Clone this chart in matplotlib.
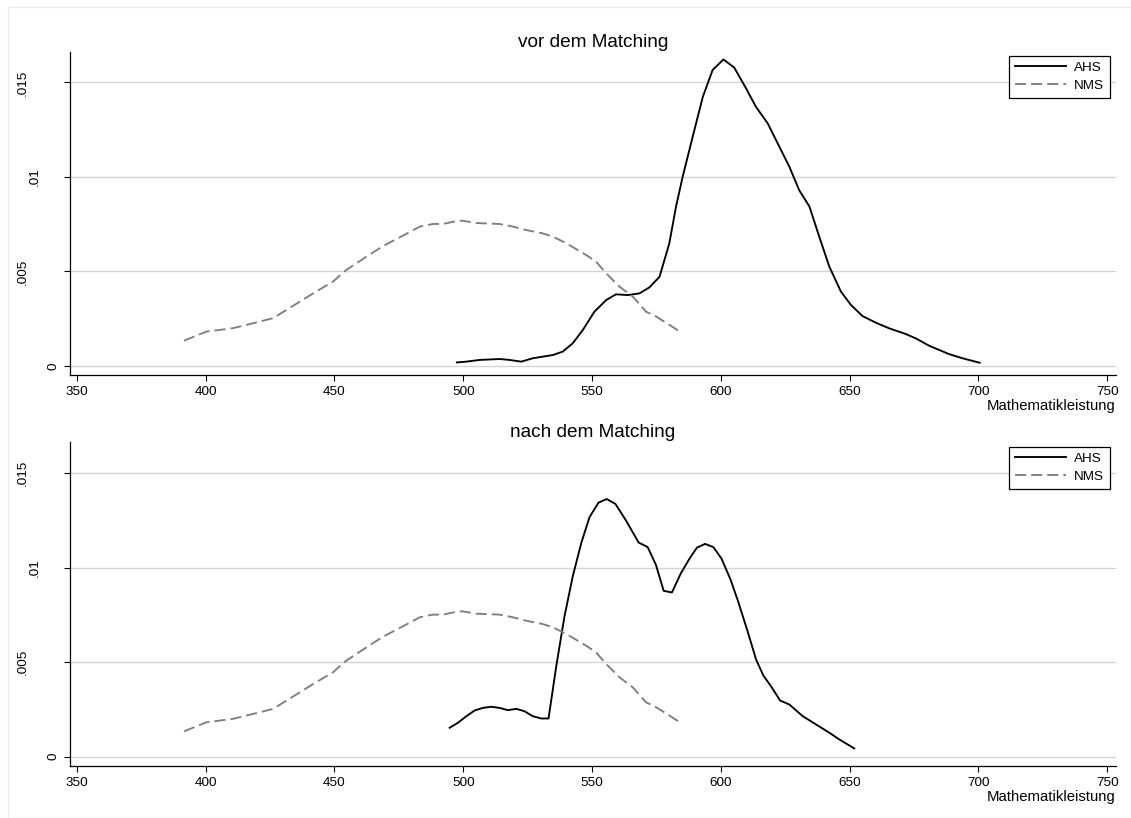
import matplotlib
matplotlib.use("Agg")
import matplotlib.pyplot as plt
from matplotlib.patches import Rectangle

plt.rcParams['font.family'] = ['Liberation Sans', 'DejaVu Sans']
plt.rcParams['lines.scale_dashes'] = False

# NMS density (same in both panels)
nms_x = [391.6, 400.3, 410.6, 418.4, 426.2, 431.3, 441.7, 449.4, 454.6, 462.4,
         468.8, 475.3, 483.1, 488.2, 492.1, 497.9, 499.9, 505.1, 514.1, 519.3,
         524.4, 530.9, 534.8, 540.0, 547.7, 551.6, 555.5, 560.6, 565.8, 571.0,
         574.8, 580.0, 584.9]
nms_y = [0.00134, 0.00182, 0.00200, 0.00226, 0.00253, 0.00296, 0.00384, 0.00446,
         0.00508, 0.00578, 0.00634, 0.00680, 0.00737, 0.00751, 0.00751, 0.00768,
         0.00768, 0.00756, 0.00751, 0.00737, 0.00719, 0.00701, 0.00684, 0.00649,
         0.00587, 0.00551, 0.00490, 0.00420, 0.00367, 0.00287, 0.00262, 0.00218,
         0.00174]

# AHS density before matching
ahs_vor_x = [497.5, 501.2, 506.3, 514.1, 518.0, 522.5, 527.0, 534.8, 538.6, 542.5,
             546.4, 550.9, 555.5, 559.3, 563.9, 568.4, 572.3, 576.2, 580.0, 582.6,
             585.2, 589.1, 593.0, 596.8, 601.0, 605.2, 609.8, 613.6, 618.2, 622.7,
             626.6, 630.4, 634.4, 638.2, 642.1, 646.6, 650.5, 655.0, 660.2, 665.4,
             671.8, 675.7, 680.9, 688.6, 693.8, 700.5]
ahs_vor_y = [0.00019, 0.00023, 0.00032, 0.00037, 0.00032, 0.00023, 0.00041, 0.00058,
             0.00076, 0.00120, 0.00190, 0.00287, 0.00349, 0.00379, 0.00375, 0.00384,
             0.00416, 0.00472, 0.00649, 0.00843, 0.01002, 0.01214, 0.01423, 0.01565,
             0.01621, 0.01578, 0.01468, 0.01371, 0.01283, 0.01160, 0.01054, 0.00930,
             0.00843, 0.00684, 0.00526, 0.00394, 0.00323, 0.00264, 0.00229, 0.00199,
             0.00169, 0.00146, 0.00107, 0.00063, 0.00041, 0.00017]

# AHS density after matching
ahs_nach_x = [494.7, 497.9, 501.2, 504.4, 507.6, 510.8, 514.1, 517.3, 520.6, 523.8,
              527.0, 530.3, 533.1, 536.1, 539.3, 542.5, 545.8, 549.0, 552.5, 555.7,
              559.1, 563.2, 568.1, 571.6, 574.8, 577.8, 581.0, 584.5, 587.7, 590.7,
              593.9, 597.1, 600.3, 603.8, 606.7, 610.2, 613.7, 616.5, 619.5, 623.0,
              626.6, 631.8, 637.0, 642.1, 646.0, 651.8]
ahs_nach_y = [0.00153, 0.00179, 0.00214, 0.00244, 0.00258, 0.00264, 0.00258, 0.00246,
              0.00253, 0.00240, 0.00214, 0.00202, 0.00202, 0.00478, 0.00742, 0.00953,
              0.01129, 0.01266, 0.01343, 0.01362, 0.01336, 0.01248, 0.01132, 0.01108,
              0.01014, 0.00877, 0.00868, 0.00970, 0.01044, 0.01105, 0.01125, 0.01108,
              0.01046, 0.00935, 0.00821, 0.00671, 0.00513, 0.00429, 0.00372, 0.00297,
              0.00276, 0.00214, 0.00170, 0.00127, 0.00091, 0.00044]

titles = ['vor dem Matching', 'nach dem Matching']
x_ticks = [350, 400, 450, 500, 550, 600, 650, 700, 750]
y_ticks = [0, 0.005, 0.01, 0.015]
y_tick_labels = ['0', '.005', '.01', '.015']
y_label_pads = [2.8, 25.5, 16.5, 25.5]

W, H = 1131, 818
fig = plt.figure(figsize=(W / 100, H / 100), dpi=100)
fig.patches.append(Rectangle((8 / W, 0), 1, 1 - 7 / H, transform=fig.transFigure,
                             fill=False, edgecolor='#ececec', lw=1))

panels = [
    (ahs_vor_x, ahs_vor_y, 51.7, 375.0, 0.9876),
    (ahs_nach_x, ahs_nach_y, 442.3, 765.7, 0.9864),
]

for i, (ax_x, ax_y, top, bottom, leg_y) in enumerate(panels):
    ax = fig.add_axes([69.7 / W, 1 - bottom / H, (1115.7 - 69.7) / W, (bottom - top) / H])
    ax.plot(ax_x, ax_y, color='black', lw=1.35, label='AHS')
    ax.plot(nms_x, nms_y, color='#7f7f7f', lw=1.35, linestyle=(0, (8, 3.6)), label='NMS')

    ax.set_xlim(347.2, 753.3)
    ax.set_ylim(-0.000476, 0.01662)
    ax.set_xticks(x_ticks)
    ax.set_yticks(y_ticks)
    ax.set_yticklabels(y_tick_labels, rotation=90, va='center')
    ax.tick_params(axis='both', length=4.3, width=0.8, color='black', labelsize=9.7)
    ax.tick_params(axis='x', pad=3.5)
    for tick, p in zip(ax.yaxis.get_major_ticks(), y_label_pads):
        tick.set_pad(p)

    ax.grid(axis='y', color='#d4d4d4', lw=1.0)
    ax.set_axisbelow(True)
    for s in ['top', 'right']:
        ax.spines[s].set_visible(False)
    for s in ['left', 'bottom']:
        ax.spines[s].set_linewidth(0.9)

    ax.set_title(titles[i], fontsize=13.7, pad=3.5)
    ax.set_xlabel('Mathematikleistung', loc='right', fontsize=10.7, labelpad=1)

    leg = ax.legend(loc='upper right', bbox_to_anchor=(0.9948, leg_y), borderaxespad=0,
                    fontsize=9.7, handlelength=3.8, handletextpad=0.6, labelspacing=0.4,
                    borderpad=0.45, fancybox=False, framealpha=1, edgecolor='black')
    leg.get_frame().set_linewidth(0.9)

fig.savefig('out.png', dpi=100)
